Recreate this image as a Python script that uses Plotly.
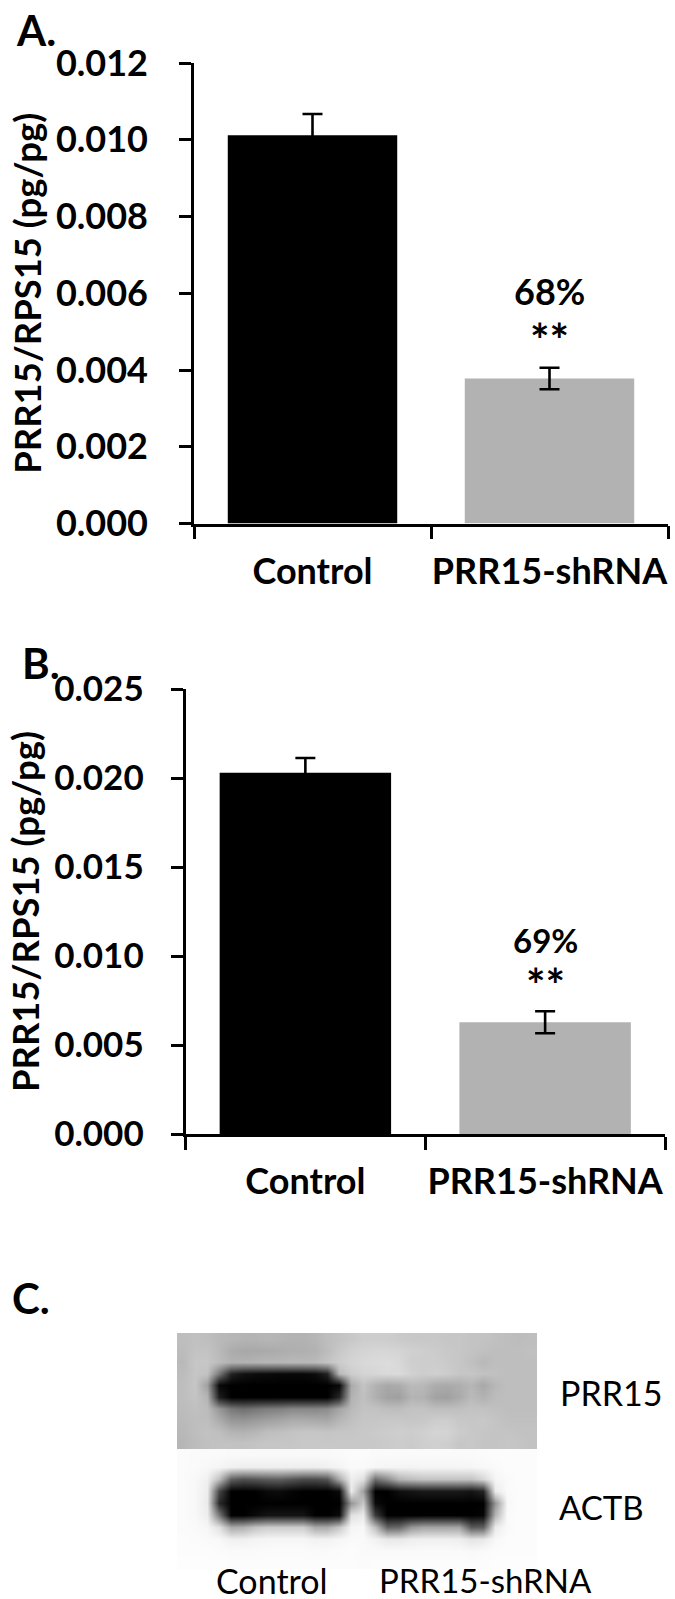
import plotly.graph_objects as go

W, H = 675, 1599
FONT = "Lato"

categories = ["Control", "PRR15-shRNA"]
a_values = [0.01012, 0.00378]
a_errors = [0.00055, 0.00028]
b_values = [0.0203, 0.00628]
b_errors = [0.00082, 0.00062]
a_ticks = [0.0, 0.002, 0.004, 0.006, 0.008, 0.010, 0.012]
b_ticks = [0.0, 0.005, 0.010, 0.015, 0.020, 0.025]
bar_colors = ["#000000", "#b2b2b2"]

# Western-blot densities (0 = black, 255 = white)
blot_prr15 = [
    [190,192,190,185,182,180,180,182,180,178,178,182,190,195,200,205,205,205,202,200,200,200,198,198,195,195,192,190,188,190],
    [188,195,195,185,172,168,168,170,172,175,175,178,188,200,208,212,214,214,212,208,206,204,200,198,195,192,190,190,190,192],
    [185,198,198,188,178,178,180,182,182,184,184,186,195,205,212,216,218,220,216,206,205,205,202,198,192,184,190,190,190,190],
    [188,198,195,120,35,18,12,10,8,8,8,12,35,185,205,212,214,218,218,210,205,208,205,198,198,194,192,190,190,190],
    [190,198,160,8,0,0,0,0,0,0,0,0,0,8,170,195,178,168,172,186,184,172,170,174,182,168,184,190,190,190],
    [190,196,180,30,0,0,0,0,0,0,0,0,0,40,178,192,176,162,160,180,178,162,160,170,186,178,188,190,190,190],
    [188,192,188,150,120,110,118,125,128,135,135,135,140,165,185,195,195,190,190,195,195,190,190,192,195,194,192,190,190,190],
    [186,190,190,172,152,150,155,160,165,172,172,170,168,182,192,198,198,200,200,198,200,205,205,200,198,200,196,192,192,192],
    [184,190,194,190,180,178,182,190,192,195,198,198,196,198,198,200,202,204,206,205,208,212,212,204,200,198,196,196,194,194],
    [182,188,192,194,194,194,196,198,198,198,200,200,200,200,200,200,200,202,204,202,206,208,206,198,200,196,196,198,196,194],
]
blot_actb = [
    [251,250,250,250,249,249,249,249,249,249,249,249,249,250,251,251,250,250,250,250,250,250,250,250,250,251,252,252,252,252],
    [251,250,248,245,240,238,238,238,238,238,238,238,240,244,250,250,246,244,244,244,245,245,245,245,246,248,250,252,252,252],
    [251,248,240,190,95,80,85,92,95,85,75,75,85,170,238,225,110,140,180,190,195,195,195,195,195,215,245,250,252,252],
    [251,248,236,70,0,0,0,10,12,5,0,0,0,10,235,160,0,0,15,20,25,25,25,25,20,35,235,250,252,252],
    [251,248,234,40,0,0,0,0,0,0,0,0,0,0,150,200,10,0,0,0,0,0,0,0,0,0,150,248,252,252],
    [251,248,238,120,0,0,10,20,20,20,20,0,0,10,225,235,60,0,0,0,0,0,0,0,0,5,180,250,252,252],
    [251,250,246,225,170,175,195,205,205,205,205,170,170,200,245,248,190,100,105,150,165,165,165,165,90,95,235,250,252,252],
    [252,251,250,248,240,240,244,246,246,246,246,242,242,246,250,250,242,232,232,238,240,240,240,238,228,232,248,252,252,252],
    [252,252,252,251,250,250,250,251,251,251,251,250,250,251,252,250,250,250,250,250,250,250,250,250,248,250,252,252,252,252],
    [253,253,253,253,252,252,252,252,252,252,252,252,252,252,252,251,252,252,252,252,252,252,252,252,252,252,253,253,253,253],
]


def dom_x(a, b):
    return [a / W, b / W]


def dom_y(top, bottom):
    return [1 - bottom / H, 1 - top / H]


def bar_trace(values, errors, xa, ya):
    return go.Bar(
        x=categories, y=values, xaxis=xa, yaxis=ya, width=0.715,
        marker=dict(color=bar_colors, line_width=0),
        error_y=dict(type="data", array=errors, visible=True, color="black", thickness=2.6, width=10),
        showlegend=False, cliponaxis=False,
    )


def blot_trace(z, xa, ya):
    return go.Heatmap(
        z=z, xaxis=xa, yaxis=ya, zmin=0, zmax=255, zsmooth="best", showscale=False,
        colorscale=[[0, "black"], [1, "white"]], hoverinfo="skip",
    )


def cat_axis(x0, x1, standoff, size):
    return dict(
        domain=dom_x(x0, x1), type="category", range=[-0.5, 1.5], automargin=False,
        showline=True, linecolor="black", linewidth=2.6, ticks="", showgrid=False,
        tickfont=dict(family=FONT, size=size, color="black", weight="bold"),
        ticklabelstandoff=standoff, zeroline=False,
        minor=dict(ticks="outside", tickmode="array", tickvals=[-0.5, 0.5, 1.5], ticklen=13, tickwidth=2.6, tickcolor="black", showgrid=False),
    )


def val_axis(top, bottom, rng, ticks, standoff, size, title_size, title_standoff, x_anchor):
    return dict(
        domain=dom_y(top, bottom), range=rng, tickmode="array", tickvals=ticks, automargin=False,
        ticktext=[f"{t:.3f}" for t in ticks], anchor=x_anchor,
        showline=True, linecolor="black", linewidth=2.6, ticks="outside", ticklen=12, tickwidth=2.6,
        tickcolor="black", showgrid=False, zeroline=False,
        tickfont=dict(family=FONT, size=size, color="black", weight="bold"),
        ticklabelstandoff=standoff,
        title=dict(text="PRR15/RPS15 (pg/pg)", standoff=title_standoff,
                   font=dict(family=FONT, size=title_size, color="black", weight="bold")),
    )


hidden = dict(visible=False, showgrid=False, zeroline=False, automargin=False)
fig = go.Figure([
    bar_trace(a_values, a_errors, "x", "y"),
    bar_trace(b_values, b_errors, "x2", "y2"),
    blot_trace(blot_prr15, "x3", "y3"),
    blot_trace(blot_actb, "x4", "y4"),
])


def note(text, x, y, size, bold=True, xref="paper", yref="paper", xanchor="center"):
    f = dict(family=FONT, size=size, color="black")
    if bold:
        f["weight"] = "bold"
    return dict(text=text, x=x, y=y, xref=xref, yref=yref, showarrow=False, font=f,
                xanchor=xanchor, yanchor="middle")


def px(xv, yv):
    return xv / W, 1 - yv / H


annotations = []
for text, xp, yp, size in [("A.", 14, 30, 42), ("B.", 20, 663, 42), ("C.", 10, 1298, 42)]:
    xx, yy = px(xp, yp)
    annotations.append(note(text, xx, yy, size, xanchor="left"))
annotations += [
    note("68%", 1, 0.00607, 36, xref="x", yref="y"),
    note("**", 1, 0.0048, 46, xref="x", yref="y"),
    note("69%", 1, 0.0109, 33, xref="x2", yref="y2"),
    note("**", 1, 0.0084, 46, xref="x2", yref="y2"),
]
for text, xp, yp, size in [("PRR15", 611, 1392, 34), ("ACTB", 601, 1507, 33),
                           ("Control", 272, 1580, 34), ("PRR15-shRNA", 485, 1580, 33)]:
    xx, yy = px(xp, yp)
    annotations.append(note(text, xx, yy, size, bold=False))

fig.update_layout(
    width=W, height=H, autosize=False, margin=dict(l=0, r=0, t=0, b=0),
    paper_bgcolor="white", plot_bgcolor="rgba(0,0,0,0)",
    xaxis=cat_axis(194, 668, 14, 36),
    yaxis=val_axis(63, 523.5, [0, 0.012], a_ticks, 24, 36, 36.4, 4, "x"),
    xaxis2=dict(cat_axis(185.5, 665, 14, 36), anchor="y2"),
    yaxis2=val_axis(689, 1134, [0, 0.025], b_ticks, 20, 35, 36.4, 4, "x2"),
    xaxis3=dict(hidden, domain=dom_x(177, 537), anchor="y3"),
    yaxis3=dict(hidden, domain=dom_y(1333, 1449), autorange="reversed", anchor="x3"),
    xaxis4=dict(hidden, domain=dom_x(177, 537), anchor="y4"),
    yaxis4=dict(hidden, domain=dom_y(1449, 1569), autorange="reversed", anchor="x4"),
    annotations=annotations,
)
fig.write_html(
    "out.html",
    config=dict(displayModeBar=False),
    post_script="document.body.style.margin='0';",
)
